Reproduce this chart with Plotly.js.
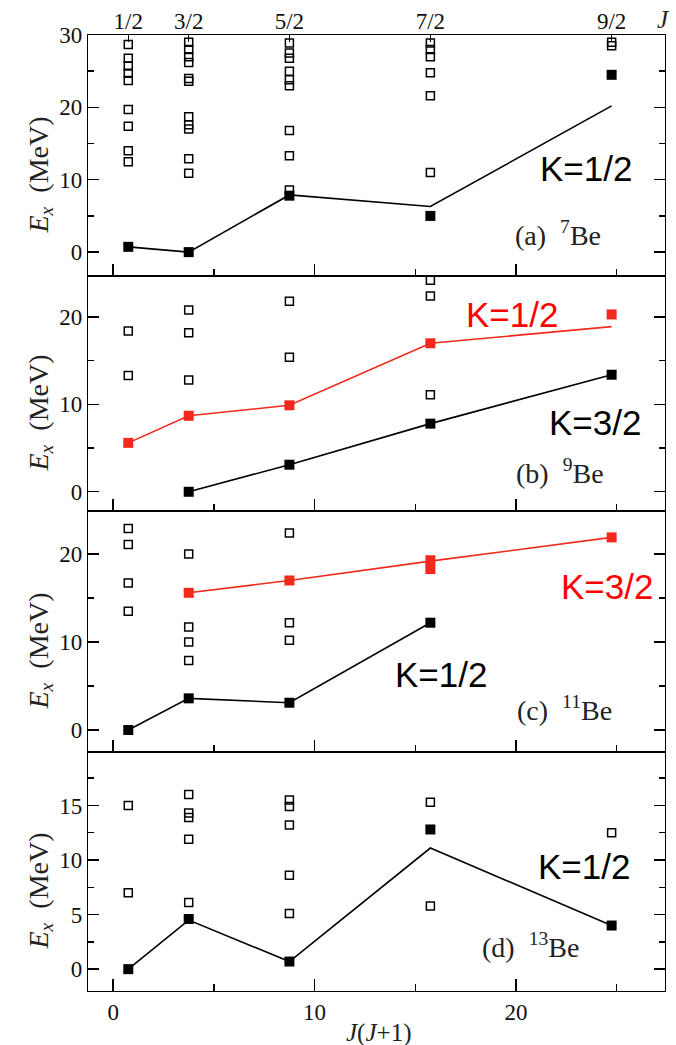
<!DOCTYPE html>
<html>
<head>
<meta charset="utf-8">
<script src="https://cdn.plot.ly/plotly-3.0.1.min.js"></script>
<style>html,body{margin:0;padding:0;background:#fff;}#chart{width:676px;height:1045px;}</style>
</head>
<body>
<div id="chart"></div>
<script>
// J values and their J(J+1) positions
const jLabels = ['1/2', '3/2', '5/2', '7/2', '9/2'];
const jj = [0.75, 3.75, 8.75, 15.75, 24.75];

// Panel (a) 7Be: open squares per J column
const aOpen = [
  [28.7, 26.8, 25.7, 24.7, 23.7, 19.7, 17.4, 14.0, 12.5],
  [29.0, 28.0, 27.0, 26.2, 24.0, 23.6, 18.7, 17.6, 17.0, 12.9, 10.9],
  [28.9, 27.5, 26.8, 25.0, 23.8, 23.0, 16.8, 13.3, 8.6],
  [28.9, 28.0, 27.0, 24.8, 21.6, 11.0],
  [29.0, 28.5]
];
const aFilled = [0.73, 0.0, 7.8, 5.0, 24.5];
const aLine = [0.73, 0.0, 7.9, 6.3, 20.2];

// Panel (b) 9Be
const bOpen = [
  [18.4, 13.3],
  [20.8, 18.2, 12.8],
  [21.8, 15.4],
  [24.2, 22.4, 11.1],
  []
];
const bRedFilled = [5.6, 8.7, 9.9, 17.0, 20.3];
const bRedLine = [5.6, 8.7, 9.9, 17.0, 18.9];
const bBlackFilled = [null, 0.0, 3.1, 7.8, 13.4];
const bBlackLine = [null, 0.0, 3.1, 7.8, 13.4];

// Panel (c) 11Be
const cOpen = [
  [22.9, 21.1, 16.7, 13.5],
  [20.0, 11.7, 10.0, 7.9],
  [22.4, 12.2, 10.2],
  [],
  []
];
const cRedFilledX = [3.75, 8.75, 15.75, 15.75, 24.75];
const cRedFilledY = [15.6, 17.0, 19.3, 18.3, 21.9];
const cRedLine = [null, 15.6, 17.0, 19.2, 21.9];
const cBlackFilled = [0.0, 3.6, 3.1, 12.2, null];
const cBlackLine = [0.0, 3.6, 3.1, 12.2, null];

// Panel (d) 13Be
const dOpen = [
  [15.0, 7.0],
  [16.0, 14.3, 13.9, 11.9, 6.1],
  [15.5, 14.9, 13.2, 8.6, 5.1],
  [15.3, 5.8],
  [12.5]
];
const dFilled = [0.0, 4.6, 0.7, 12.8, 4.0];
const dLine = [0.0, 4.5, 0.7, 11.1, 4.0];

const RED = '#f2291c';
const SERIF = 'Liberation Serif, Times New Roman, serif';
const SANS = 'Liberation Sans, Arial, sans-serif';

function flatten(cols) {
  const xs = [], ys = [];
  cols.forEach((col, i) => col.forEach(v => { xs.push(jj[i]); ys.push(v); }));
  return {xs, ys};
}
function openTrace(cols, xa, ya) {
  const f = flatten(cols);
  return {x: f.xs, y: f.ys, xaxis: xa, yaxis: ya, mode: 'markers', type: 'scatter',
    marker: {symbol: 'square-open', size: 8, color: 'black', line: {width: 1.5, color: 'black'}},
    cliponaxis: false, hoverinfo: 'skip'};
}
function lineTrace(ys, color, xa, ya) {
  return {x: jj, y: ys, xaxis: xa, yaxis: ya, mode: 'lines', type: 'scatter',
    line: {color: color, width: 1.6}, hoverinfo: 'skip'};
}
function filledTrace(xs, ys, color, xa, ya) {
  return {x: xs, y: ys, xaxis: xa, yaxis: ya, mode: 'markers', type: 'scatter',
    marker: {symbol: 'square', size: 10, color: color}, cliponaxis: false, hoverinfo: 'skip'};
}

const traces = [
  lineTrace(aLine, 'black', 'x', 'y'),
  openTrace(aOpen, 'x', 'y'),
  filledTrace(jj, aFilled, 'black', 'x', 'y'),

  lineTrace(bRedLine, RED, 'x2', 'y2'),
  lineTrace(bBlackLine, 'black', 'x2', 'y2'),
  openTrace(bOpen, 'x2', 'y2'),
  filledTrace(jj, bRedFilled, RED, 'x2', 'y2'),
  filledTrace(jj, bBlackFilled, 'black', 'x2', 'y2'),

  lineTrace(cRedLine, RED, 'x3', 'y3'),
  lineTrace(cBlackLine, 'black', 'x3', 'y3'),
  openTrace(cOpen, 'x3', 'y3'),
  filledTrace(cRedFilledX, cRedFilledY, RED, 'x3', 'y3'),
  filledTrace(jj, cBlackFilled, 'black', 'x3', 'y3'),

  lineTrace(dLine, 'black', 'x4', 'y4'),
  openTrace(dOpen, 'x4', 'y4'),
  filledTrace(jj, dFilled, 'black', 'x4', 'y4'),
  // invisible trace to activate the top J axis
  {x: jj, y: aLine, xaxis: 'x5', yaxis: 'y', mode: 'markers', type: 'scatter', marker: {opacity: 0}, hoverinfo: 'skip', showlegend: false}
];

const X_RANGE = [-1.25, 27.4];
const LW = 1.2;
function xax(anchor, labels) {
  return {
    range: X_RANGE, anchor: anchor, showline: true, linewidth: LW, linecolor: 'black', mirror: true,
    ticks: 'inside', ticklen: 12, tickwidth: 1.4, tickcolor: 'black', tick0: 0, dtick: 10,
    minor: {dtick: 5, ticks: 'inside', ticklen: 7, tickwidth: 1.4, tickcolor: 'black'},
    showticklabels: labels, showgrid: false, zeroline: false,
    tickfont: {family: SERIF, size: 23, color: '#111'}, fixedrange: true
  };
}
function yax(domain, range, dtick, minorDtick, anchor) {
  return {
    domain: domain, range: range, anchor: anchor, showline: true, linewidth: LW, linecolor: 'black',
    mirror: 'ticks', ticks: 'inside', ticklen: 11, tickwidth: 1.4, tickcolor: 'black', tick0: 0, dtick: dtick,
    minor: {dtick: minorDtick, ticks: 'inside', ticklen: 6, tickwidth: 1.4, tickcolor: 'black'},
    showgrid: false, zeroline: false, tickfont: {family: SERIF, size: 23, color: '#111'}, fixedrange: true
  };
}

const H = 956;
const dD = [0, 239 / H], dC = [239 / H, 480 / H], dB = [480 / H, 715 / H], dA = [715 / H, 1];

function kLabel(text, x, y, xa, ya, color) {
  return {text: text, x: x, y: y, xref: xa, yref: ya, showarrow: false,
    font: {family: SANS, size: 35, color: color}, xanchor: 'center', yanchor: 'middle'};
}
function panelLabel(text, x, y, xa, ya) {
  return {text: text, x: x, y: y, xref: xa, yref: ya, showarrow: false,
    font: {family: SERIF, size: 28, color: '#222'}, xanchor: 'center', yanchor: 'middle'};
}
function yTitle(dom) {
  return {text: '<i>E</i><sub><i>x</i></sub>  (MeV)', textangle: -90, xref: 'paper', yref: 'paper',
    x: (40 - 88) / 577, y: (dom[0] + dom[1]) / 2 - 20 / H, xanchor: 'center', yanchor: 'middle',
    showarrow: false, font: {family: SERIF, size: 28, color: '#222'}};
}

const annotations = [
  kLabel('K=1/2', 23.5, 11.6, 'x', 'y', 'black'),
  kLabel('K=1/2', 19.8, 20.3, 'x2', 'y2', 'red'),
  kLabel('K=3/2', 23.9, 7.9, 'x2', 'y2', 'black'),
  kLabel('K=3/2', 24.5, 16.3, 'x3', 'y3', 'red'),
  kLabel('K=1/2', 16.3, 6.3, 'x3', 'y3', 'black'),
  kLabel('K=1/2', 23.4, 9.4, 'x4', 'y4', 'black'),
  panelLabel('(a)  <sup>7</sup>Be', 22.1, 2.6, 'x', 'y'),
  panelLabel('(b)  <sup>9</sup>Be', 22.2, 2.3, 'x2', 'y2'),
  panelLabel('(c)  <sup>11</sup>Be', 22.4, 2.5, 'x3', 'y3'),
  panelLabel('(d)  <sup>13</sup>Be', 20.7, 2.2, 'x4', 'y4'),
  yTitle(dA), yTitle(dB), yTitle(dC), yTitle(dD),
  {text: '<i>J</i>(<i>J</i>+1)', xref: 'paper', yref: 'paper', x: (378 - 88) / 577, y: (991 - 1033) / H,
    xanchor: 'center', yanchor: 'middle', showarrow: false, font: {family: SERIF, size: 25, color: '#222'}},
  {text: '<i>J</i>', xref: 'paper', yref: 'paper', x: (663 - 88) / 577, y: (991 - 20) / H,
    xanchor: 'center', yanchor: 'middle', showarrow: false, font: {family: SERIF, size: 25, color: '#222'}}
];

const layout = {
  width: 676, height: 1045,
  margin: {l: 88, r: 11, t: 35, b: 54, pad: 0},
  paper_bgcolor: 'white', plot_bgcolor: 'white',
  showlegend: false,
  font: {family: SERIF, color: '#111'},
  xaxis: xax('y', false),
  xaxis2: xax('y2', false),
  xaxis3: xax('y3', false),
  xaxis4: xax('y4', true),
  xaxis5: {overlaying: 'x', side: 'top', anchor: 'y', range: X_RANGE, tickmode: 'array',
    tickvals: jj, ticktext: jLabels, ticks: 'inside', ticklen: 7, tickwidth: 1.4, tickcolor: 'black',
    showline: false, showgrid: false, zeroline: false, tickfont: {family: SERIF, size: 23, color: '#111'}, fixedrange: true},
  yaxis: yax(dA, [-3.3, 30.0], 10, 5, 'x'),
  yaxis2: yax(dB, [-2.2, 24.7], 10, 5, 'x2'),
  yaxis3: yax(dC, [-2.5, 24.9], 10, 5, 'x3'),
  yaxis4: yax(dD, [-2.0, 19.9], 5, 2.5, 'x4'),
  annotations: annotations
};

Plotly.newPlot('chart', traces, layout, {displayModeBar: false, staticPlot: true});
</script>
</body>
</html>
